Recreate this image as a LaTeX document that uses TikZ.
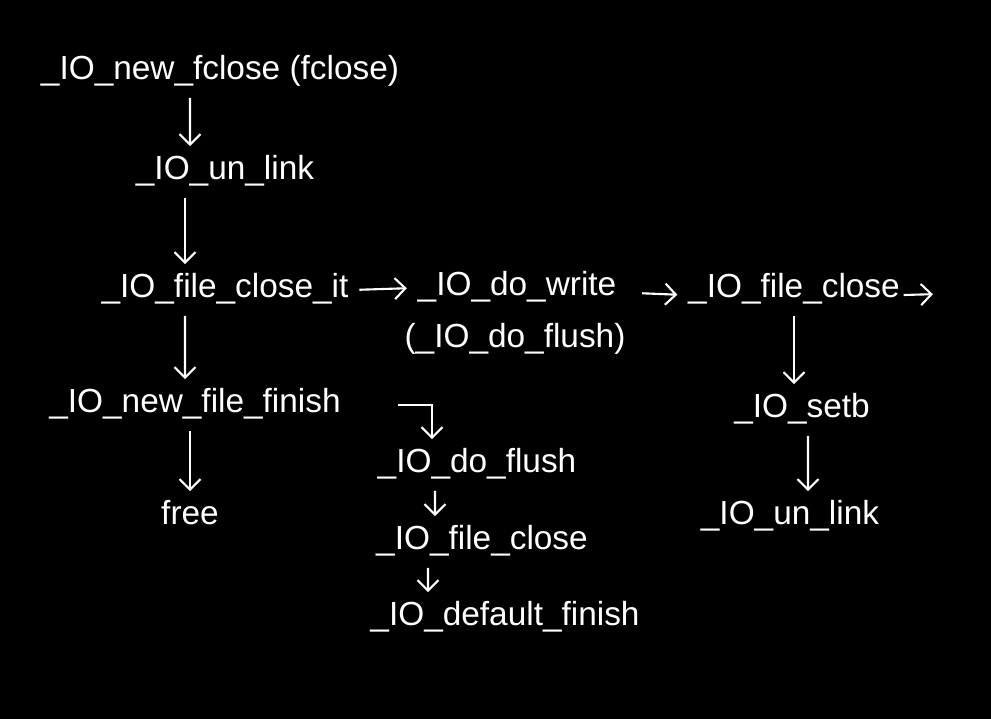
\documentclass[tikz,border=0pt]{standalone}
\usepackage{fontspec}
\setsansfont{Liberation Sans}
\usetikzlibrary{arrows.meta}
\begin{document}
\begin{tikzpicture}
  [x=0.02cm,y=-0.02cm,
   every node/.style={text=white,font=\sffamily\fontsize{19}{21}\selectfont,
     inner sep=2pt,text height=13pt,text depth=4pt},
   flow/.style={draw=white,line width=1.2pt,shorten <=4pt,shorten >=4pt,
     -{Straight Barb[length=6pt,width=12pt]}}]
  \fill[black] (0,0) rectangle (991,719);

  \node (fclose) at (220,72) {\_IO\_new\_fclose (fclose)};
  \node (unlinka) at (225,172) {\_IO\_un\_link};
  \node (closeit) at (225,290) {\_IO\_file\_close\_it};
  \node (dowrite) at (517,288) {\_IO\_do\_write};
  \node (doflusha) at (515,340) {(\_IO\_do\_flush)};
  \node (fileclosea) at (794,290) {\_IO\_file\_close};
  \coordinate (outa) at (940,294);
  \node (setb) at (802,410) {\_IO\_setb};
  \node (unlinkb) at (790,517) {\_IO\_un\_link};
  \node (newfinish) at (195,405) {\_IO\_new\_file\_finish};
  \node (free) at (190,517) {free};
  \coordinate (bend) at (432,405);
  \node (doflushb) at (477,465) {\_IO\_do\_flush};
  \node (filecloseb) at (482,542) {\_IO\_file\_close};
  \node (deffinish) at (505,618) {\_IO\_default\_finish};

  \draw[flow] ([xshift=-0.6cm]fclose.south) -- ([xshift=-0.7cm]unlinka.north);
  \draw[flow] ([xshift=-0.8cm]unlinka.south) -- ([xshift=-0.8cm]closeit.north);
  \draw[flow] ([xshift=-0.8cm]closeit.south) -- ([xshift=-0.2cm]newfinish.north);
  \draw[flow] (newfinish.south -| free) -- (free.north);
  \draw[flow] (closeit.east) -- (dowrite.west);
  \draw[flow] ([xshift=0.3cm,yshift=-0.1cm]dowrite.east) -- ([yshift=-0.1cm]fileclosea.west);
  \draw[flow,shorten <=0pt] ([yshift=-0.1cm]fileclosea.east) -- (outa);
  \draw[flow] (fileclosea.south) -- (fileclosea.south |- setb.north);
  \draw[flow] ([xshift=0.12cm]setb.south) -- ([xshift=0.36cm]unlinkb.north);
  \draw[flow] ([xshift=-0.82cm]bend) -- (bend) -- (bend |- doflushb.north);
  \draw[flow] ([xshift=-0.84cm]doflushb.south) -- ([xshift=-0.94cm]filecloseb.north);
  \draw[flow] ([xshift=-1.08cm]filecloseb.south) -- ([xshift=-1.54cm]deffinish.north);
\end{tikzpicture}
\end{document}
